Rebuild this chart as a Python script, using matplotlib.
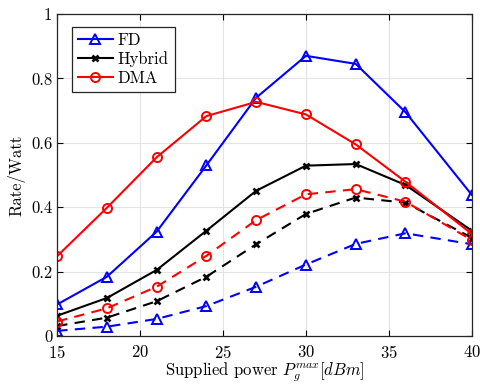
import matplotlib
matplotlib.use('Agg')
import matplotlib.pyplot as plt

plt.rcParams['font.family'] = 'serif'
plt.rcParams['font.serif'] = ['cmr10', 'DejaVu Serif']
plt.rcParams['mathtext.fontset'] = 'cm'
plt.rcParams['axes.formatter.use_mathtext'] = True

power = [15, 18, 21, 24, 27, 30, 33, 36, 40]

fd = [0.098, 0.184, 0.324, 0.53, 0.74, 0.87, 0.845, 0.695, 0.438]
hybrid = [0.063, 0.118, 0.205, 0.327, 0.451, 0.529, 0.534, 0.469, 0.327]
dma = [0.248, 0.398, 0.555, 0.683, 0.727, 0.688, 0.595, 0.479, 0.317]

fd_dash = [0.016, 0.029, 0.053, 0.093, 0.153, 0.222, 0.286, 0.319, 0.285]
hybrid_dash = [0.031, 0.057, 0.108, 0.184, 0.285, 0.379, 0.43, 0.414, 0.305]
dma_dash = [0.045, 0.086, 0.153, 0.249, 0.36, 0.44, 0.456, 0.417, 0.298]

fig = plt.figure(figsize=(4.8, 3.88), dpi=100)
ax = fig.add_axes([0.119, 0.134, 0.864, 0.830])

lw = 1.5
ax.plot(power, fd, '-', color='#0000ff', marker='^', mfc='none', ms=7, mew=1.4, lw=lw, label='FD')
ax.plot(power, hybrid, '-', color='black', marker='x', ms=4.5, mew=1.9, lw=lw, label='Hybrid')
ax.plot(power, dma, '-', color='#ff0000', marker='o', mfc='none', ms=6.5, mew=1.4, lw=lw, label='DMA')
ax.plot(power, fd_dash, '--', color='#0000ff', marker='^', mfc='none', ms=7, mew=1.4, lw=lw, dashes=(5, 3.5))
ax.plot(power, hybrid_dash, '--', color='black', marker='x', ms=4.5, mew=1.9, lw=lw, dashes=(5, 3.5))
ax.plot(power, dma_dash, '--', color='#ff0000', marker='o', mfc='none', ms=6.5, mew=1.4, lw=lw, dashes=(5, 3.5))

ax.set_xlim(15, 40)
ax.set_ylim(0, 1)
ax.set_xticks([15, 20, 25, 30, 35, 40])
ax.set_yticks([0, 0.2, 0.4, 0.6, 0.8, 1])
ax.set_yticklabels(['0', '0.2', '0.4', '0.6', '0.8', '1'])
ax.grid(True, color='#e3e3e3', lw=0.8)
ax.set_axisbelow(True)
ax.tick_params(direction='in', labelsize=12, length=4, top=True, right=True)
ax.tick_params(axis='x', pad=6)
for s in ax.spines.values():
    s.set_color('#262626')
    s.set_linewidth(0.9)

ax.set_xlabel(r'Supplied power $P_g^{max}[dBm]$', fontsize=12, labelpad=0)
ax.set_ylabel('Rate/Watt', fontsize=12, labelpad=4)

leg = ax.legend(loc='upper left', bbox_to_anchor=(0.036, 0.96), borderaxespad=0, fontsize=12,
                fancybox=False, edgecolor='#262626', framealpha=1,
                handlelength=2.1, borderpad=0.35, labelspacing=0.2, handletextpad=0.3)
leg.get_frame().set_linewidth(0.9)

fig.savefig('out.png', dpi=100)
